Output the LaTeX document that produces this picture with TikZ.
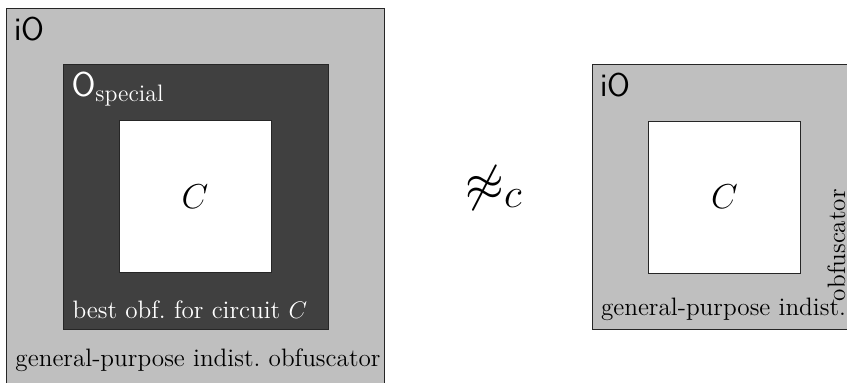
\documentclass[tikz,border=0pt]{standalone}
\usepackage{amsmath}
\begin{document}
\begin{tikzpicture}[x=0.5pt,y=-0.5pt,
  box/.style={draw=black!85,line width=0.45pt,rectangle,inner sep=0pt,outer sep=0pt},
  graybox/.style={box,fill=black!25},
  darkbox/.style={box,fill=black!75},
  whitebox/.style={box,fill=white,minimum width=76pt,minimum height=76pt,font=\fontsize{16.5}{19}\selectfont},
  lbl/.style={inner sep=0pt,outer sep=0pt,anchor=base west},
  body/.style={lbl,font=\fontsize{12.6}{15}\selectfont},
  sanslbl/.style={lbl,font=\fontsize{16.5}{19}\selectfont\sffamily}]
\useasboundingbox (0,0) rectangle (847,382);
\clip (0,0) rectangle (847,382);
% left picture
\node[graybox,minimum width=189pt,minimum height=192pt] (outerL) at (195,200) {};
\node[darkbox,minimum width=132.5pt,minimum height=132.5pt] (dark) at (195.5,196.5) {};
\node[whitebox] (whiteL) at (195,196.5) {$C$};
\node[sanslbl] (ioL) at (14,40) {iO};
\node[lbl,text=white,font=\fontsize{17}{20}\selectfont] (osp) at (71.5,96.5) {$\mathsf{O}_{\text{special}}$};
\node[body,text=white] (best) at (72.5,318.5) {best obf.\ for circuit $C$};
\node[body] (genL) at (15.5,366) {general-purpose indist.\ obfuscator};
% relation
\node[inner sep=0pt,font=\fontsize{24.88}{30}\selectfont] (rel) at (494,188) {$\not\approx_c$};
% right picture
\node[graybox,minimum width=156pt,minimum height=132.5pt] (outerR) at (748,196.5) {};
\node[whitebox] (whiteR) at (724.5,197) {$C$};
\node[sanslbl] (ioR) at (600,96) {iO};
\node[body] (genR) at (601,315) {general-purpose indist.};
\node[body,rotate=90] (obfR) at (845,301) {obfuscator};
\end{tikzpicture}
\end{document}
